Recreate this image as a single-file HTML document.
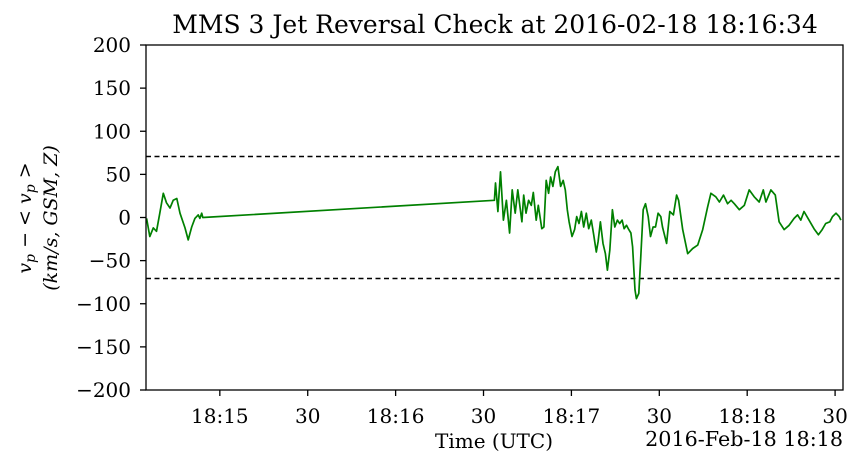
<!DOCTYPE html>
<html><head><meta charset="utf-8"><style>
body{margin:0;background:#fff;}
svg text{font-family:"DejaVu Serif","Liberation Serif",serif;fill:#000;}
</style></head><body>
<svg id="chart" width="860" height="467" xmlns="http://www.w3.org/2000/svg">
<rect width="860" height="467" fill="#fff"/>
<text x="495" y="33" font-size="25" text-anchor="middle">MMS 3 Jet Reversal Check at 2016-02-18 18:16:34</text>
<g id="yticks"></g>
<g id="xticks"></g>
<line x1="146" x2="843" y1="156.5" y2="156.5" stroke="#000" stroke-width="1.4" stroke-dasharray="5,3.5"/>
<line x1="146" x2="843" y1="278.5" y2="278.5" stroke="#000" stroke-width="1.4" stroke-dasharray="5,3.5"/>
<path id="series" fill="none" stroke="#008000" stroke-width="1.7" stroke-linejoin="round"/>
<rect x="146" y="45" width="697" height="345" fill="none" stroke="#000" stroke-width="1.3"/>
<text x="494" y="448" font-size="20" text-anchor="middle">Time (UTC)</text>
<text x="843" y="446" font-size="20.7" text-anchor="end">2016-Feb-18 18:18</text>
<g transform="translate(31,218) rotate(-90)">
<text x="0" y="0" font-size="19" text-anchor="middle" font-style="italic">v<tspan font-size="14" dy="4">p</tspan><tspan dy="-4"> − &lt; v</tspan><tspan font-size="14" dy="4">p</tspan><tspan dy="-4"> &gt;</tspan></text>
<text x="0" y="26" font-size="19" text-anchor="middle" font-style="italic">(km/s, GSM, Z)</text>
</g>
</svg>
<script>
// times: seconds after 18:14:00 UTC
const times=[35.0,36.1,37.3,38.4,39.5,40.7,41.8,43.0,44.1,45.3,46.4,48.1,49.2,50.4,51.5,52.6,53.2,53.8,54.2,
153.7,154.1,154.9,155.8,156.8,157.8,158.9,159.8,160.8,161.7,163.1,163.7,164.5,165.4,166.3,167.0,168.0,168.7,169.9,170.6,171.4,172.2,172.9,173.7,174.5,175.4,176.3,177.2,177.9,178.6,179.2,180.2,181.1,181.8,182.6,183.4,184.2,185.1,185.9,186.8,187.6,188.5,189.1,189.9,190.8,191.6,192.3,193.1,194.0,194.8,195.7,196.5,197.3,198.0,198.8,199.6,200.3,200.9,201.7,202.2,203.0,203.7,204.5,205.3,206.2,207.0,207.9,208.7,209.6,210.5,
211.1,212.5,213.6,214.8,215.9,216.6,218.0,219.7,221.4,223.1,224.8,226.5,227.6,229.3,230.5,231.9,233.3,234.5,235.6,237.3,239.0,240.7,242.4,244.1,245.5,246.4,248.1,249.6,250.9,252.6,254.3,256.0,257.2,258.3,259.4,261.1,262.8,264.3,265.6,266.8,268.2,269.1,270.3,271.4,272.0];
const values=[-1,-22,-12,-16,5,28,17,11,20,22,5,-12,-26,-11,-1,3,-1,5,0,
20,40,7,53,-3,20,-18,32,5,32,-5,26,5,20,14,29,-3,14,-13,-11,43,28,47,36,53,59,36,43,32,9,-5,-22,-14,1,-7,7,-11,5,-13,-3,-20,-40,-28,-5,-30,-42,-61,-38,9,-11,-3,-7,-3,-13,-9,-14,-18,-34,-84,-94,-88,-45,9,16,1,-22,-11,-11,5,1,
-11,-30,7,3,26,20,-14,-42,-36,-32,-14,12,28,24,18,26,16,20,16,9,14,32,24,18,32,18,32,26,-5,-14,-9,-1,3,-3,7,-3,-13,-20,-14,-7,-5,1,5,1,-3];
const yTicks=[-200,-150,-100,-50,0,50,100,150,200];
const xTickTimes=[60,90,120,150,180,210,240,270];
const xTickLabels=["18:15","30","18:16","30","18:17","30","18:18","30"];
const T0=34.8,T1=272.7,L=146,R=843,TOP=45,BOT=390;
const xs=t=>L+(t-T0)/(T1-T0)*(R-L);
const ys=v=>TOP+(200-v)/400*(BOT-TOP);
const NS="http://www.w3.org/2000/svg";
const yg=document.getElementById('yticks'),xg=document.getElementById('xticks');
yTicks.forEach(v=>{
 const y=ys(v);
 const l=document.createElementNS(NS,'line');
 l.setAttribute('x1',L-6);l.setAttribute('x2',L);l.setAttribute('y1',y);l.setAttribute('y2',y);l.setAttribute('stroke','#000');l.setAttribute('stroke-width','1.3');
 
 
 yg.appendChild(l);
 const t=document.createElementNS(NS,'text');
 t.setAttribute('x',L-15);t.setAttribute('y',y+7);t.setAttribute('text-anchor','end');t.setAttribute('font-size','20');
 t.textContent=v<0?'\u2212'+(-v):String(v);
 
 
 yg.appendChild(t);
});
xTickTimes.forEach((tt,i)=>{
 const x=xs(tt);
 const l=document.createElementNS(NS,'line');
 l.setAttribute('x1',x);l.setAttribute('x2',x);l.setAttribute('y1',BOT);l.setAttribute('y2',BOT+6);l.setAttribute('stroke','#000');l.setAttribute('stroke-width','1.3');
 
 
 xg.appendChild(l);
 const t=document.createElementNS(NS,'text');
 t.setAttribute('x',x);t.setAttribute('y',BOT+33);t.setAttribute('text-anchor','middle');t.setAttribute('font-size','20');
 t.textContent=xTickLabels[i];
 
 
 xg.appendChild(t);
});
document.getElementById('series').setAttribute('d',times.map((t,i)=>(i?'L':'M')+xs(t).toFixed(1)+','+ys(values[i]).toFixed(1)).join(''));
</script>
</body></html>
